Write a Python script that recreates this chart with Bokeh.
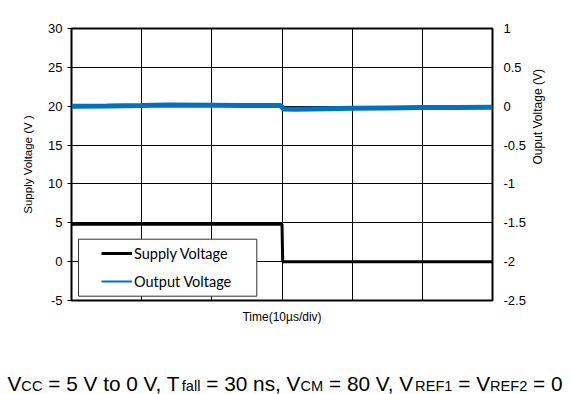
import math
from bokeh.plotting import figure
from bokeh.layouts import column
from bokeh.models import (Range1d, LinearAxis, FixedTicker, Legend, LegendItem,
                          BoxAnnotation, Label)
from bokeh.embed import file_html
from bokeh.resources import INLINE

# ---- data ----
time_divs = [0, 1, 2, 3, 4, 5, 6]                 # time in divisions (10 us/div)
supply_time = [0.0, 3.0, 3.01, 3.04, 6.0]
supply_voltage = [4.8, 4.8, -0.05, 0.0, 0.0]
output_time = [0.0, 0.5, 1.0, 1.4, 2.0, 2.5, 2.98, 3.02, 3.2, 3.6, 4.0, 4.5, 5.0, 5.5, 6.0]
output_voltage = [0.0, 0.004, 0.01, 0.016, 0.013, 0.01, 0.008, -0.035, -0.038,
                  -0.032, -0.027, -0.022, -0.018, -0.015, -0.013]
left_ticks = [-5, 0, 5, 10, 15, 20, 25, 30]
left_tick_labels = ["-5", "0", "5", "10", "15", "20", "25", "30"]
right_ticks = [-2.5, -2, -1.5, -1, -0.5, 0, 0.5, 1]
right_tick_labels = ["-2.5", "-2", "-1.5", "-1", "-0.5", "0", "0.5", "1"]
series_names = ["Supply Voltage", "Output Voltage"]
caption_parts = [("V", False), ("CC", True), (" = 5 V to 0 V, T", False), ("fall", True),
                 (" = 30 ns, V", False), ("CM", True), (" = 80 V, V", False),
                 ("REF1", True), (" = V", False), ("REF2", True), (" = 0", False)]

BLUE = "#0070C0"
FONT = "Liberation Sans"

p = figure(width=572, height=340, output_backend="svg", toolbar_location=None,
           x_range=Range1d(0, 6), y_range=Range1d(-5, 30),
           min_border_left=71, min_border_right=80, min_border_top=28,
           min_border_bottom=40, background_fill_color="white",
           border_fill_color="white")
p.frame_align = False
p.extra_y_ranges = {"out": Range1d(-2.5, 1)}

p.outline_line_color = "black"
p.outline_line_width = 2
p.outline_line_alpha = 1

# grid
for g in (p.xgrid, p.ygrid):
    g.grid_line_color = "black"
    g.grid_line_width = 1
    g.grid_line_alpha = 1

# x axis
xa = p.xaxis[0]
xa.ticker = FixedTicker(ticks=time_divs)
xa.major_label_overrides = {t: "" for t in time_divs}
xa.major_tick_line_color = None
xa.minor_tick_line_color = None
xa.axis_line_color = None
xa.major_label_standoff = 0
xa.axis_label = "Time(10\u00b5s/div)"
xa.axis_label_text_font = FONT
xa.axis_label_text_font_size = "12px"
xa.axis_label_text_font_style = "normal"
xa.axis_label_text_color = "black"
xa.axis_label_standoff = 3

# left axis
ya = p.yaxis[0]
ya.ticker = FixedTicker(ticks=left_ticks)
ya.major_label_overrides = dict(zip(left_ticks, left_tick_labels))
ya.major_tick_out = 4
ya.major_tick_in = 0
ya.major_tick_line_color = "black"
ya.minor_tick_line_color = None
ya.axis_line_color = None
ya.major_label_standoff = 5
ya.major_label_text_font = FONT
ya.major_label_text_font_size = "13px"
ya.major_label_text_color = "black"
ya.axis_label = "Supply Voltage (V )"
ya.axis_label_text_font = FONT
ya.axis_label_text_font_size = "11.5px"
ya.axis_label_text_font_style = "normal"
ya.axis_label_text_color = "black"
ya.axis_label_standoff = 11

# right axis
ra = LinearAxis(y_range_name="out", ticker=FixedTicker(ticks=right_ticks))
ra.major_label_overrides = dict(zip(right_ticks, right_tick_labels))
ra.major_tick_out = 0
ra.major_tick_in = 0
ra.major_tick_line_color = None
ra.minor_tick_line_color = None
ra.axis_line_color = None
ra.major_label_standoff = 11
ra.major_label_text_font = FONT
ra.major_label_text_font_size = "13px"
ra.major_label_text_color = "black"
ra.axis_label = "Ouput Voltage (V)"
ra.axis_label_orientation = math.pi / 2
ra.axis_label_text_font = FONT
ra.axis_label_text_font_size = "12px"
ra.axis_label_text_font_style = "normal"
ra.axis_label_text_color = "black"
ra.axis_label_standoff = 9
p.add_layout(ra, "right")

# data lines
r_out = p.line(output_time, output_voltage, y_range_name="out",
               line_color=BLUE, line_width=5)
r_sup = p.line(supply_time, supply_voltage, line_color="black", line_width=3)
# single-point line (draws nothing) used only for the thinner legend key
r_out_key = p.line(output_time[:1], output_voltage[:1], y_range_name="out",
                   line_color=BLUE, line_width=2)

# legend box + legend
box = BoxAnnotation(left=0.1, right=2.641, bottom=-4.447, top=2.888,
                    fill_color="white", fill_alpha=1,
                    line_color="#333333", line_width=1, line_alpha=1)
p.add_layout(box)
legend = Legend(items=[LegendItem(label=series_names[0], renderers=[r_sup]),
                       LegendItem(label=series_names[1], renderers=[r_out_key])],
                location=(30, 9), padding=0, margin=0, spacing=8,
                glyph_width=31, glyph_height=20, label_height=20,
                label_standoff=2, label_text_font="Lato",
                label_text_font_size="14.5px", label_text_color="black",
                background_fill_alpha=0, border_line_color=None)
p.add_layout(legend)

# caption figure (pixel-like data coordinates)
cap = figure(width=572, height=54, output_backend="svg", toolbar_location=None,
             x_range=Range1d(0, 572), y_range=Range1d(0, 54),
             x_axis_type=None, y_axis_type=None,
             min_border_left=0, min_border_right=0, min_border_top=0,
             min_border_bottom=0, background_fill_color="white",
             border_fill_color="white")
cap.frame_align = False
cap.outline_line_color = None
cap.grid.visible = False

# caption with subscripts (Arial/Liberation Sans advance widths per 1000 em)
AW = {' ': 278, '=': 584, ',': 278, '0': 556, '1': 556, '2': 556, '3': 556, '5': 556,
      '8': 556, 'V': 667, 'C': 722, 'T': 611, 'M': 833, 'R': 722, 'E': 667,
      'F': 611, 't': 278, 'o': 556, 'f': 278, 'a': 556, 'l': 222, 'n': 556, 's': 500}
MAIN = 20.8
SUB = 14.6
cursor = 7.0
for text, is_sub in caption_parts:
    size = SUB if is_sub else MAIN
    stripped = text.lstrip(" ")
    lead = (len(text) - len(stripped)) * AW[' '] * size / 1000.0
    cap.add_layout(Label(x=cursor + lead, y=(8.7 if is_sub else 10.7),
                         text=stripped, text_font=FONT,
                         text_font_size=f"{size}px", text_color="black",
                         text_baseline="alphabetic", text_align="left"))
    cursor += sum(AW[c] for c in text) * size / 1000.0

layout = column(p, cap, spacing=0)
open("out.html", "w").write(file_html(layout, INLINE))
